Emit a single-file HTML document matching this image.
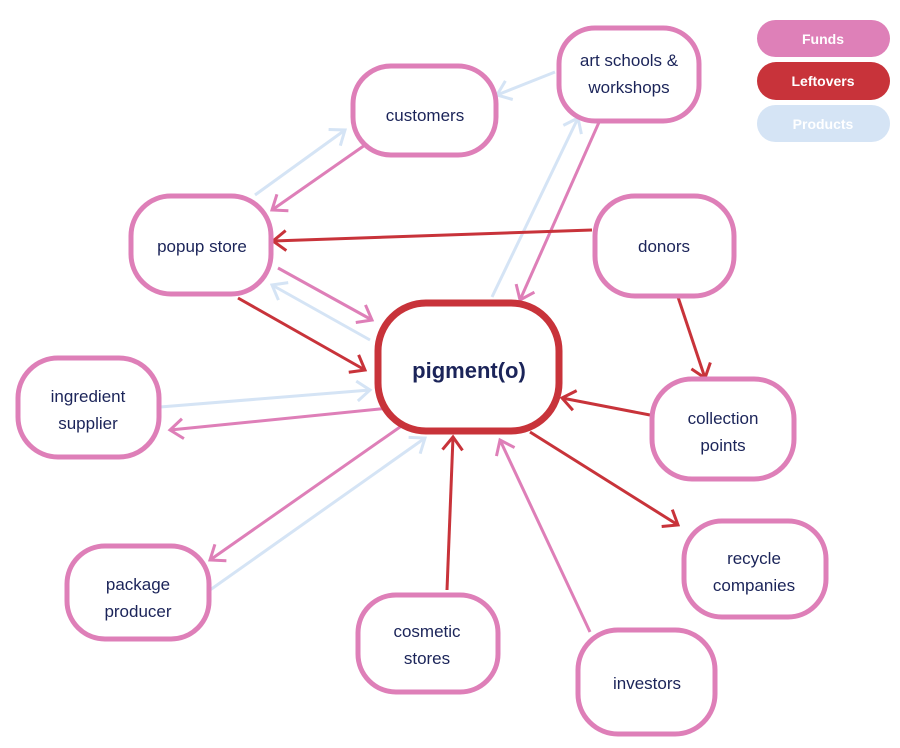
<!DOCTYPE html>
<html><head><meta charset="utf-8"><style>
html,body{margin:0;padding:0;background:#fff;}
svg{display:block;}
text{font-family:"Liberation Sans",Arial,sans-serif;fill:#1b2459;text-anchor:middle;}
.n{fill:#fff;stroke:#de7fb8;stroke-width:5;}
.p{stroke:#de7fb8;stroke-width:3;fill:none;marker-end:url(#mp);}
.r{stroke:#c8333a;stroke-width:3;fill:none;marker-end:url(#mr);}
.b{stroke:#d5e4f5;stroke-width:3;fill:none;marker-end:url(#mb);}
</style></head><body>
<svg width="900" height="748" viewBox="0 0 900 748" xmlns="http://www.w3.org/2000/svg">
<defs>
<marker id="mp" markerUnits="userSpaceOnUse" markerWidth="30" markerHeight="30" refX="15" refY="15" orient="auto"><polyline points="2,5 15,15 2,25" fill="none" stroke="#de7fb8" stroke-width="3"/></marker>
<marker id="mr" markerUnits="userSpaceOnUse" markerWidth="30" markerHeight="30" refX="15" refY="15" orient="auto"><polyline points="2,5 15,15 2,25" fill="none" stroke="#c8333a" stroke-width="3"/></marker>
<marker id="mb" markerUnits="userSpaceOnUse" markerWidth="30" markerHeight="30" refX="15" refY="15" orient="auto"><polyline points="2,5 15,15 2,25" fill="none" stroke="#d5e4f5" stroke-width="3"/></marker>
</defs>
<!-- arrows -->
<line class="b" x1="255" y1="195" x2="345" y2="130"/>
<line class="p" x1="365" y1="145" x2="272" y2="210"/>
<line class="b" x1="555" y1="72" x2="497" y2="95"/>
<line class="b" x1="492" y1="297" x2="578" y2="118"/>
<line class="p" x1="600" y1="120" x2="520" y2="300"/>
<line class="r" x1="592" y1="230" x2="273" y2="241"/>
<line class="p" x1="278" y1="268" x2="372" y2="320"/>
<line class="b" x1="370" y1="340" x2="272" y2="285"/>
<line class="r" x1="238" y1="298" x2="365" y2="370"/>
<line class="r" x1="678" y1="297" x2="705" y2="378"/>
<line class="b" x1="160" y1="407" x2="370" y2="390"/>
<line class="p" x1="390" y1="408" x2="170" y2="430"/>
<line class="r" x1="650" y1="415" x2="562" y2="398"/>
<line class="p" x1="410" y1="420" x2="210" y2="560"/>
<line class="b" x1="210" y1="590" x2="425" y2="438"/>
<line class="r" x1="530" y1="432" x2="678" y2="525"/>
<line class="r" x1="447" y1="590" x2="453" y2="437"/>
<line class="p" x1="590" y1="632" x2="500" y2="440"/>
<!-- nodes -->
<rect class="n" x="353" y="66" width="143" height="89" rx="38"/>
<text x="425" y="121" font-size="17">customers</text>
<rect class="n" x="559" y="28" width="140" height="93" rx="36"/>
<text x="629" y="66" font-size="17">art schools &amp;</text>
<text x="629" y="93" font-size="17">workshops</text>
<rect class="n" x="131" y="196" width="140" height="98" rx="40"/>
<text x="202" y="252" font-size="17">popup store</text>
<rect class="n" x="595" y="196" width="139" height="100" rx="40"/>
<text x="664" y="252" font-size="17">donors</text>
<rect x="378" y="303" width="181" height="128" rx="48" fill="#fff" stroke="#c8333a" stroke-width="7"/>
<text x="469" y="378" font-size="22" font-weight="bold">pigment(o)</text>
<rect class="n" x="18" y="358" width="141" height="99" rx="40"/>
<text x="88" y="402" font-size="17">ingredient</text>
<text x="88" y="429" font-size="17">supplier</text>
<rect class="n" x="652" y="379" width="142" height="100" rx="40"/>
<text x="723" y="424" font-size="17">collection</text>
<text x="723" y="451" font-size="17">points</text>
<rect class="n" x="67" y="546" width="142" height="93" rx="38"/>
<text x="138" y="590" font-size="17">package</text>
<text x="138" y="617" font-size="17">producer</text>
<rect class="n" x="684" y="521" width="142" height="96" rx="38"/>
<text x="754" y="564" font-size="17">recycle</text>
<text x="754" y="591" font-size="17">companies</text>
<rect class="n" x="358" y="595" width="140" height="97" rx="38"/>
<text x="427" y="637" font-size="17">cosmetic</text>
<text x="427" y="664" font-size="17">stores</text>
<rect class="n" x="578" y="630" width="137" height="104" rx="40"/>
<text x="647" y="689" font-size="17">investors</text>
<!-- legend -->
<rect x="757" y="20" width="133" height="37" rx="18.5" fill="#de80b8"/>
<text x="823" y="44" font-size="14" font-weight="bold" style="fill:#fff">Funds</text>
<rect x="757" y="62" width="133" height="38" rx="19" fill="#c8333a"/>
<text x="823" y="86" font-size="14" font-weight="bold" style="fill:#fff">Leftovers</text>
<rect x="757" y="105" width="133" height="37" rx="18.5" fill="#d5e4f5"/>
<text x="823" y="129" font-size="14" font-weight="bold" style="fill:#fff">Products</text>
</svg>
</body></html>
